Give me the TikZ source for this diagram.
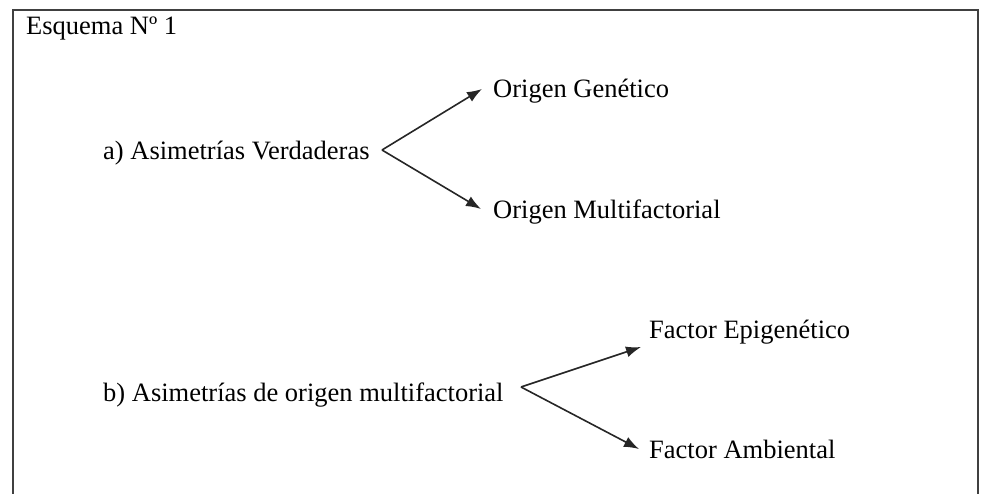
\documentclass[tikz,border=0pt]{standalone}
\usepackage{fontspec}
\setmainfont{Liberation Serif}
\usetikzlibrary{arrows.meta}
\tikzset{
  lbl/.style={anchor=base west, inner sep=0pt, font=\fontsize{26.5}{30}\selectfont},
  arr/.style={-{Latex[length=15pt,width=11pt]}, line width=1.6pt, black!85},
  frame/.style={line width=1.8pt, black!75}
}
\begin{document}
\begin{tikzpicture}[x=1pt,y=-1pt]
\useasboundingbox (0,0) rectangle (984,494);
\draw[frame] (13,494) -- (13,10) -- (978,10) -- (978,494);
\node[lbl] (title) at (26,35) {Esquema Nº 1};
\node[lbl] (a) at (103,159.5) {a) Asimetrías Verdaderas};
\node[lbl] (og) at (493,97.5) {Origen Genético};
\node[lbl] (om) at (493,218.5) {Origen Multifactorial};
\node[lbl] (b) at (103,401.5) {b) Asimetrías de origen multifactorial};
\node[lbl] (fe) at (649,338.5) {Factor Epigenético};
\node[lbl] (fa) at (649,458.5) {Factor Ambiental};
\coordinate (as) at (382,150);
\coordinate (ogt) at (482,89);
\coordinate (omt) at (481,209);
\coordinate (bs) at (521,387);
\coordinate (fet) at (641,347);
\coordinate (fat) at (639,449);
\draw[arr] (as) -- (ogt);
\draw[arr] (as) -- (omt);
\draw[arr] (bs) -- (fet);
\draw[arr] (bs) -- (fat);
\end{tikzpicture}
\end{document}
